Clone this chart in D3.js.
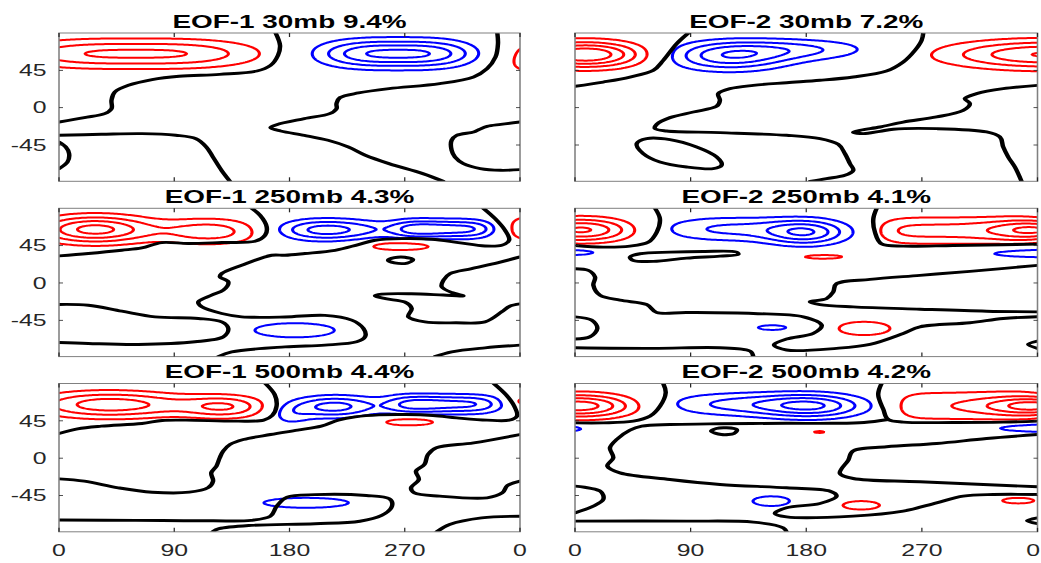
<!DOCTYPE html>
<html>
<head>
<meta charset="utf-8">
<title>EOF patterns</title>
<script src="https://cdn.jsdelivr.net/npm/d3@7"></script>
<style>
  html, body { margin: 0; padding: 0; background: #fff; }
  svg { display: block; }
  text { font-family: "Liberation Sans", Arial, Helvetica, sans-serif; }
</style>
</head>
<body>
<svg id="fig" width="1041" height="563"></svg>
<script>
// ---------- axes ----------
const lonDomain = [0, 360];
const latDomain = [-88.75, 90];
const lonTicks = [0, 90, 180, 270, 360];
const lonTickLabels = ["0", "90", "180", "270", "0"];
const latTicks = [45, 0, -45];
const latTickLabels = ["45", "0", "-45"];
const contourLevels = [-5, -4, -3, -2, -1, 1, 2, 3, 4, 5];

const titles = [
  "EOF-1 30mb 9.4%", "EOF-2 30mb 7.2%",
  "EOF-1 250mb 4.3%", "EOF-2 250mb 4.1%",
  "EOF-1 500mb 4.4%", "EOF-2 500mb 4.2%"
];

// ---------- EOF-1 30mb ----------
// anomaly centres: [lon, lat, amplitude, lon width, lat width, lon shape exponent]
const eof1_30mb_centres = [
  [60, 65, 3.25, 73, 12, 3],
  [368, 60, 1.3, 27, 22, 2],
  [265, 65, -4.35, 47, 11.7, 2.8]
];
// zero isolines as [lon, lat] vertices
const eof1_30mb_zero = [
  [[169.2,90],[172.6,75.1],[171.0,63.1],[165.2,51.0],[154.6,44.2],[125.5,40.2],[93.8,37.8],[72.7,33.8],[54.2,26.9],[43.6,18.9],[41.0,8.9],[41.0,-1.2],[35.7,-7.2],[19.8,-12.0],[0,-17.3]],
  [[342.3,90],[342.8,77.1],[340.9,61.1],[334.3,47.0],[323.8,37.0],[297.3,28.9],[257.7,22.9],[233.9,17.7],[219.4,12.1],[216.7,4.8],[216.7,-1.2],[211.4,-7.2],[191.6,-13.2],[170,-20.5],[165.2,-24.1],[173.1,-28.1],[191.6,-33.3],[210.1,-39.3],[226.0,-47.4],[239.2,-57.4],[257.7,-67.5],[284.1,-79.5],[300.0,-88.75]],
  [[0,-33.3],[33,-32.1],[64.8,-31.3],[91.2,-33.3],[107,-37.4],[115,-47.4],[120.2,-59.4],[126.9,-75.5],[133.5,-88.75]],
  [[360,-17.3],[345,-20.1],[334.3,-22.5],[327.7,-26.6],[323.8,-29.3],[310.5,-33.3],[306.6,-39.3],[306.6,-51.4],[309.2,-59.4],[315.8,-67.5],[329.0,-73.5],[344.9,-75.5],[360,-74.7]],
  [[0,-41.4],[5.3,-47.4],[7.9,-55.4],[6.6,-65.5],[0,-73.5]]
];
const eof1_30mb_loops = [];

// ---------- EOF-2 30mb ----------
const eof2_30mb_centres = [
  [8, 64, 5.0, 31, 11, 2],
  [368, 64, 4.1, 55, 12, 2],
  [120, 62, -3.6, 32, 12, 2],
  [175, 70, -2.0, 40, 9, 2]
];
const eof2_30mb_zero = [
  [[88.2,90],[79.1,77.1],[68.7,57.0],[60.9,44.9],[42.8,36.9],[22.0,30.9],[0,25.7]],
  [[271.1,90],[269.8,81.2],[264.6,69.1],[255.5,55.1],[242.5,44.2],[216.6,37.0],[190.7,33.0],[164.7,30.1],[138.8,26.9],[120.6,22.9],[111.5,16.9],[112.8,8.9],[110.2,1.6],[92.1,-5.2],[73.9,-12.0],[63.6,-20.1],[62.3,-25.3],[71.3,-28.1],[112.8,-30.1],[164.7,-33.3],[190.7,-37.3],[204.9,-44.2],[210.1,-55.4],[214.0,-67.5],[216.6,-75.5],[210.1,-81.5],[195.8,-85.5],[182.9,-88.75]],
  [[360,26.9],[333.3,22.9],[312.6,16.9],[303.5,10.9],[307.4,4.8],[302.2,-3.2],[281.5,-11.2],[255.5,-17.3],[237.4,-23.3],[221.8,-27.3],[216.6,-29.7],[224.4,-31.3],[237.4,-28.5],[247.7,-26],[281.5,-25.3],[320.4,-29.3],[330.7,-35.3],[333.3,-47.4],[337.2,-59.4],[342.4,-71.5],[347.6,-88.75]]
];
const eof2_30mb_loops = [
  [[48.0,-43.4],[55.8,-37.3],[73.9,-38.5],[94.7,-47.4],[110.2,-59.4],[114.1,-69.5],[107.6,-73.5],[86.9,-71.5],[66.1,-65.5],[53.1,-55.4]]
];

// ---------- EOF-1 250mb ----------
const eof1_250mb_centres = [
  [28, 64.5, 4.4, 31, 11.5, 2],
  [118, 62, 2.6, 28, 11, 2],
  [207, 64, -3.4, 26, 9, 2],
  [302, 65, -3.4, 33, 8, 4],
  [258, 65, -1.0, 25, 8, 2],
  [267, 44.5, 1.8, 22, 4.5, 2],
  [368, 66, 1.6, 18, 14, 2],
  [184, -57, -1.35, 40, 11, 2]
];
const eof1_250mb_zero = [
  [[0,32.6],[22.9,35.5],[49.0,39.4],[64.6,42.2],[80.2,48.7],[101.0,47.5],[127.1,48.7],[153.1,50.3],[160.9,57.5],[162.2,67.5],[157.0,81.6],[150.5,90]],
  [[331.4,90],[340.5,77.6],[348.3,63.5],[351.5,51.5],[345.8,45.5],[332.7,44.6],[311.9,48.7],[291.1,52.7],[267.7,53.5],[246.8,51.5],[233.8,46.3],[215.6,39.4],[192.1,35.5],[176.5,33.4],[166.1,33.4],[142.7,21.4],[127.1,11.4],[125.7,7.3],[132.2,1.3],[128.3,-8.7],[119.2,-14.7],[108.8,-22.8],[111.5,-28.8],[127.1,-36.8],[142.7,-40.8],[176.5,-41],[207.7,-39],[228.6,-44.8],[237.7,-54.8],[239.0,-64.9],[232.5,-70.9],[207.7,-74.9],[176.5,-77.0],[134.9,-83.0],[124.4,-88.75]],
  [[0,-25.9],[22.9,-26.8],[49,-34],[75,-40.8],[108.8,-42.8],[127.1,-46.9],[132.2,-54.8],[128.3,-64.9],[106.2,-70.9],[61.9,-74.1],[22.9,-72.9],[0,-71.7]],
  [[360,31.4],[343.1,24.6],[322.3,17.4],[305.4,11.4],[300.2,3.3],[298.9,-4.7],[306.7,-11.5],[315.8,-15.5],[300,-14.5],[275,-13],[252,-13.5],[246.8,-15.5],[255,-19],[270,-23],[275.4,-30.7],[272.8,-40.8],[285.8,-46.9],[310,-48],[332.7,-46.9],[345.7,-34.8],[352,-28],[360,-25.2]],
  [[293.6,-88.75],[306.7,-83],[332.7,-78.2],[360,-74.9]]
];
const eof1_250mb_loops = [
  [[257,27.4],[262,30.5],[270,31],[276.5,28],[272,24],[262,24.2]]
];

// ---------- EOF-2 250mb ----------
const eof2_250mb_centres = [
  [5, 64, 4.2, 28, 10, 2],
  [300, 63, 2.4, 58, 12, 6],
  [372, 64, 3.2, 28, 8, 2],
  [180, 61, -3.6, 22, 10.5, 2],
  [120, 65, -2.2, 40, 10.5, 2],
  [-5, 37, -1.5, 24, 4, 2],
  [366, 36, -1.7, 46, 5, 2],
  [193, 31.6, 1.4, 19, 3, 2],
  [154.5, -53.8, -1.25, 18, 4.5, 2],
  [225, -54.8, 1.35, 26, 10.3, 2]
];
const eof2_250mb_zero = [
  [[62.3,90],[66.1,77.2],[63.6,61.2],[57.1,49.2],[42.8,44.4],[22.0,43.2],[0,45.2]],
  [[234.8,90],[232.2,77.2],[233.5,61.2],[238.6,47.2],[255.5,44.4],[294.4,45.2],[333.3,46],[360,46.8]],
  [[0,17.2],[10.4,15.2],[15.6,7.2],[14.3,-2.8],[19.5,-14.8],[35.0,-20.8],[55.8,-26.0],[63.6,-35.6],[86.9,-35.6],[138.8,-36.8],[177.7,-40.8],[192.0,-50.8],[185.5,-60.8],[164.7,-67.6],[154.9,-74.8],[164.7,-80.8],[203.6,-78.8],[229.6,-74.0],[255.5,-60.8],[268.5,-52.8],[307.4,-48.0],[333.3,-42.8],[360,-40.8]],
  [[360,21.2],[307.4,14.0],[268.5,9.2],[229.6,4.4],[203.6,-0.8],[201.0,-10.8],[195.8,-18.8],[182.9,-22.8],[190.7,-26.0],[216.6,-28.8],[268.5,-31.6],[320.4,-34.0],[360,-34.8]],
  [[0,-40.8],[13,-44.8],[17.4,-54.8],[11.7,-64.8],[0,-67.6]],
  [[0,-78],[61,-78.8],[112.8,-78],[136.2,-82],[138.8,-88.75]],
  [[360,-70],[352.8,-74],[360,-78.8]]
];
const eof2_250mb_loops = [
  [[42.8,31.2],[50.6,35.2],[73.9,37.2],[99.9,38.0],[125.8,37.2],[127.1,34.4],[112.8,32.4],[86.9,30.0],[61,26.0],[45.4,27.2]]
];

// ---------- EOF-1 500mb ----------
const eof1_500mb_centres = [
  [36, 64.5, 3.5, 38, 11, 2],
  [88, 64, 0.7, 30, 10, 2],
  [130, 62, 2.8, 22.6, 9.5, 2],
  [213, 62, -3.3, 22, 9, 2],
  [302, 65, -3.25, 36, 8, 4],
  [260, 64, -0.9, 25, 9, 2],
  [180, 52, -1.2, 12, 10, 2],
  [273.5, 44, 1.7, 20, 4.5, 2],
  [372, 68.5, 2.0, 12, 4.7, 2],
  [193, -53.8, -1.35, 42.6, 7.7, 2]
];
const eof1_500mb_zero = [
  [[161.2,90],[168.4,76.7],[169.9,62.7],[166.5,51.4],[159.9,45.8],[138.8,44.6],[99.1,45.8],[80.6,45.4],[64.8,41.8],[33.0,38.6],[14.5,35.4],[0,29.7]],
  [[339.6,90],[348.9,76.7],[355.5,62.7],[357.6,50.6],[351.5,45.8],[334.3,45.8],[310.6,48.6],[292.1,51.4],[270.9,52.6],[249.8,52.2],[231.3,49.8],[218.0,45.8],[204.8,38.6],[186.3,33.8],[165.2,28.5],[144.0,22.5],[133.5,16.5],[128.2,8.5],[125.5,0.4],[122.9,-9.6],[118.9,-17.7],[120.3,-27.7],[116.3,-35.7],[101.8,-41.0],[72.7,-41.0],[46.3,-35.7],[19.8,-27.7],[0,-24.9]],
  [[360,28.5],[323.8,18.5],[294.7,12.5],[288.1,4.4],[285.4,-7.6],[278.8,-15.6],[281.0,-25.7],[274.9,-35.7],[277.5,-41.8],[297.3,-45.8],[334.3,-47.8],[346.2,-41.8],[350.2,-32.9],[360,-27.7]],
  [[0,-74.5],[60,-75],[120,-75.5],[150,-75],[165,-70],[170,-58],[178,-47],[200,-44],[240,-45],[258,-49],[260,-58],[252,-69],[235,-76],[200,-79],[150,-81],[125,-85],[120,-88.75]],
  [[360,-70],[330,-72],[305,-80],[295,-88.75]]
];
const eof1_500mb_loops = [];

// ---------- EOF-2 500mb ----------
const eof2_500mb_centres = [
  [3, 63, 4.6, 30, 10, 2],
  [305, 63, 1.7, 54, 15, 6],
  [372, 63, 3.8, 35, 7.5, 2],
  [185, 63, -3.7, 28, 10, 2],
  [125, 65, -2.2, 40, 10, 2],
  [-5, 35.6, -1.5, 12, 3.5, 2],
  [365, 36.6, -2.0, 38, 4.5, 2],
  [190, 31.6, 1.15, 8, 2.5, 2],
  [153, -51.8, -1.3, 20, 8, 2],
  [222.5, -56.8, 1.3, 20, 7, 2],
  [345, -51.2, 1.2, 20, 5.5, 2]
];
const eof2_500mb_zero = [
  [[68.7,90],[70.6,78.8],[66.2,62.7],[58.4,50.6],[45.4,44.6],[22,42.6],[0,42.6]],
  [[238.6,90],[236,76.7],[240,58.7],[243.8,46.6],[255.5,43.5],[294.4,43],[333.3,43.4],[360,44.6]],
  [[360,28.5],[320.4,23.7],[281.5,17.7],[242.5,13.7],[216.6,8.9],[212.7,-2.4],[206.2,-18.5],[216.6,-24.5],[268.5,-28.5],[360,-34.5]],
  [[243.8,46.6],[225,43],[200,42],[164.7,42],[112.8,41.5],[73.9,40.5],[52,38.5],[42.8,33.8],[32.4,22.5],[27.2,12.5],[29.8,0.4],[25.2,-9.6],[35,-17.7],[73.9,-25.7],[112.8,-31.7],[164.7,-35.7],[198.4,-39.7],[203.6,-45.8],[190.7,-54.6],[164.7,-59.8],[155.6,-66.7],[164.7,-70.7],[216.6,-69.9],[255.5,-63.9],[281.4,-53.8],[302.2,-45.8],[325.5,-43.8],[360,-43.8]],
  [[0,-33.7],[19.5,-39.7],[22,-49.8],[14.3,-57.8],[0,-65.9]],
  [[0,-75.9],[86.9,-75.9],[138.8,-77.1],[162.1,-83.9],[164.7,-88.75]],
  [[360,-72],[352,-75.5],[360,-79]]
];
const eof2_500mb_loops = [
  [[106,32.5],[110,35.8],[118,36.6],[126,34.5],[124,30],[114,28.5]]
];

const panels = [
  { title: titles[0], centres: eof1_30mb_centres, zero: eof1_30mb_zero, loops: eof1_30mb_loops },
  { title: titles[1], centres: eof2_30mb_centres, zero: eof2_30mb_zero, loops: eof2_30mb_loops },
  { title: titles[2], centres: eof1_250mb_centres, zero: eof1_250mb_zero, loops: eof1_250mb_loops },
  { title: titles[3], centres: eof2_250mb_centres, zero: eof2_250mb_zero, loops: eof2_250mb_loops },
  { title: titles[4], centres: eof1_500mb_centres, zero: eof1_500mb_zero, loops: eof1_500mb_loops },
  { title: titles[5], centres: eof2_500mb_centres, zero: eof2_500mb_zero, loops: eof2_500mb_loops }
];

// ---------- layout ----------
const FIG_W = 1041;
const X_STRETCH = 1.55;              // the figure is drawn wide: everything is stretched horizontally
const colLeft = [59, 575], colWidth = [461, 462.5];
const rowTop = [33, 208.3, 383.5], rowHeight = 148.3;
const frameColor = "#808080", labelColor = "#262626";
const posColor = "#ff0000", negColor = "#0000ff";

// sampling grid (extends past the map so edge contours are open, then clipped)
const gLon0 = -30, gDLon = 1.5, gNx = 281;
const gLat0 = 100, gDLat = 1, gNy = 201;

function fieldValue(centres, lon, lat) {
  let v = 0;
  for (const [c0, c1, a, sx, sy, p] of centres) {
    const dx = Math.abs((lon - c0) / sx), dy = (lat - c1) / sy;
    v += a * Math.exp(-0.5 * Math.pow(dx, p || 2) - 0.5 * dy * dy);
  }
  return v;
}

function sampleGrid(centres) {
  const values = new Float64Array(gNx * gNy);
  for (let j = 0; j < gNy; j++) {
    const lat = gLat0 - j * gDLat;
    for (let i = 0; i < gNx; i++) {
      values[j * gNx + i] = fieldValue(centres, gLon0 + i * gDLon, lat);
    }
  }
  return values;
}

const svg = d3.select("#fig");
const root = svg.append("g").attr("transform", `scale(${X_STRETCH},1)`);

panels.forEach((p, k) => {
  const col = k % 2, row = Math.floor(k / 2);
  const x0 = colLeft[col] / X_STRETCH, x1 = (colLeft[col] + colWidth[col]) / X_STRETCH;
  const y0 = rowTop[row], y1 = rowTop[row] + rowHeight;
  const x = d3.scaleLinear().domain(lonDomain).range([x0, x1]);
  const y = d3.scaleLinear().domain(latDomain).range([y1, y0]);

  const g = root.append("g");
  const clipId = "clip" + k;
  g.append("clipPath").attr("id", clipId)
    .append("rect").attr("x", x0).attr("y", y0).attr("width", x1 - x0).attr("height", y1 - y0);

  const plot = g.append("g").attr("clip-path", `url(#${clipId})`);

  // coloured isolines
  const values = sampleGrid(p.centres);
  const contours = d3.contours().size([gNx, gNy]).smooth(true).thresholds(contourLevels)(values);
  const ringToPath = ring => "M" + ring.map(([gx, gy]) => {
    const lon = gLon0 + (gx - 0.5) * gDLon;
    const lat = gLat0 - (gy - 0.5) * gDLat;
    return x(lon).toFixed(2) + "," + y(lat).toFixed(2);
  }).join("L") + "Z";
  contours.forEach(c => {
    if (c.value === 0) return;
    const d = c.coordinates.map(poly => poly.map(ringToPath).join("")).join("");
    if (!d) return;
    plot.append("path")
      .attr("d", d)
      .attr("fill", "none")
      .attr("stroke", c.value > 0 ? posColor : negColor)
      .attr("stroke-width", 2)
      .attr("stroke-linejoin", "round");
  });

  // zero isolines
  const zeroLine = d3.line().x(d => x(d[0])).y(d => y(d[1])).curve(d3.curveCatmullRom.alpha(0.5));
  const zeroLoop = d3.line().x(d => x(d[0])).y(d => y(d[1])).curve(d3.curveCatmullRomClosed.alpha(0.5));
  plot.selectAll("path.zero").data(p.zero).join("path")
    .attr("class", "zero")
    .attr("d", zeroLine)
    .attr("fill", "none").attr("stroke", "#000").attr("stroke-width", 2.9)
    .attr("stroke-linejoin", "round").attr("stroke-linecap", "round");
  plot.selectAll("path.loop").data(p.loops).join("path")
    .attr("class", "loop")
    .attr("d", zeroLoop)
    .attr("fill", "none").attr("stroke", "#000").attr("stroke-width", 2.9)
    .attr("stroke-linejoin", "round");

  // frame and ticks
  g.append("rect").attr("x", x0).attr("y", y0).attr("width", x1 - x0).attr("height", y1 - y0)
    .attr("fill", "none").attr("stroke", frameColor).attr("stroke-width", 1);
  const tLenX = 4 / X_STRETCH, tLenY = 4;
  latTicks.forEach(t => {
    g.append("line").attr("x1", x0).attr("x2", x0 + tLenX).attr("y1", y(t)).attr("y2", y(t))
      .attr("stroke", labelColor).attr("stroke-width", 0.8);
    g.append("line").attr("x1", x1).attr("x2", x1 - tLenX).attr("y1", y(t)).attr("y2", y(t))
      .attr("stroke", labelColor).attr("stroke-width", 0.8);
  });
  lonTicks.forEach(t => {
    g.append("line").attr("x1", x(t)).attr("x2", x(t)).attr("y1", y1).attr("y2", y1 - tLenY)
      .attr("stroke", labelColor).attr("stroke-width", 0.8);
    g.append("line").attr("x1", x(t)).attr("x2", x(t)).attr("y1", y0).attr("y2", y0 + tLenY)
      .attr("stroke", labelColor).attr("stroke-width", 0.8);
  });

  // tick labels
  if (col === 0) {
    latTicks.forEach((t, i) => {
      g.append("text").attr("x", x0 - 8).attr("y", y(t)).attr("dy", "0.36em")
        .attr("text-anchor", "end").attr("font-size", 16).attr("fill", labelColor)
        .text(latTickLabels[i]);
    });
  }
  if (row === 2) {
    lonTicks.forEach((t, i) => {
      const lbl = g.append("text").attr("x", x(t)).attr("y", y1 + 24)
        .attr("text-anchor", "middle").attr("font-size", 16).attr("fill", labelColor)
        .text(lonTickLabels[i]);
      // keep the last label inside the figure's right edge
      const right = (x(t) + lbl.node().getComputedTextLength() / 2) * X_STRETCH;
      if (right > FIG_W - 1) lbl.attr("x", x(t) - (right - FIG_W + 1) / X_STRETCH);
    });
  }

  // title
  g.append("text").attr("x", (x0 + x1) / 2).attr("y", y0 - 5)
    .attr("text-anchor", "middle").attr("font-size", 18).attr("font-weight", "bold")
    .attr("fill", "#000").text(p.title);
});
</script>
</body>
</html>
